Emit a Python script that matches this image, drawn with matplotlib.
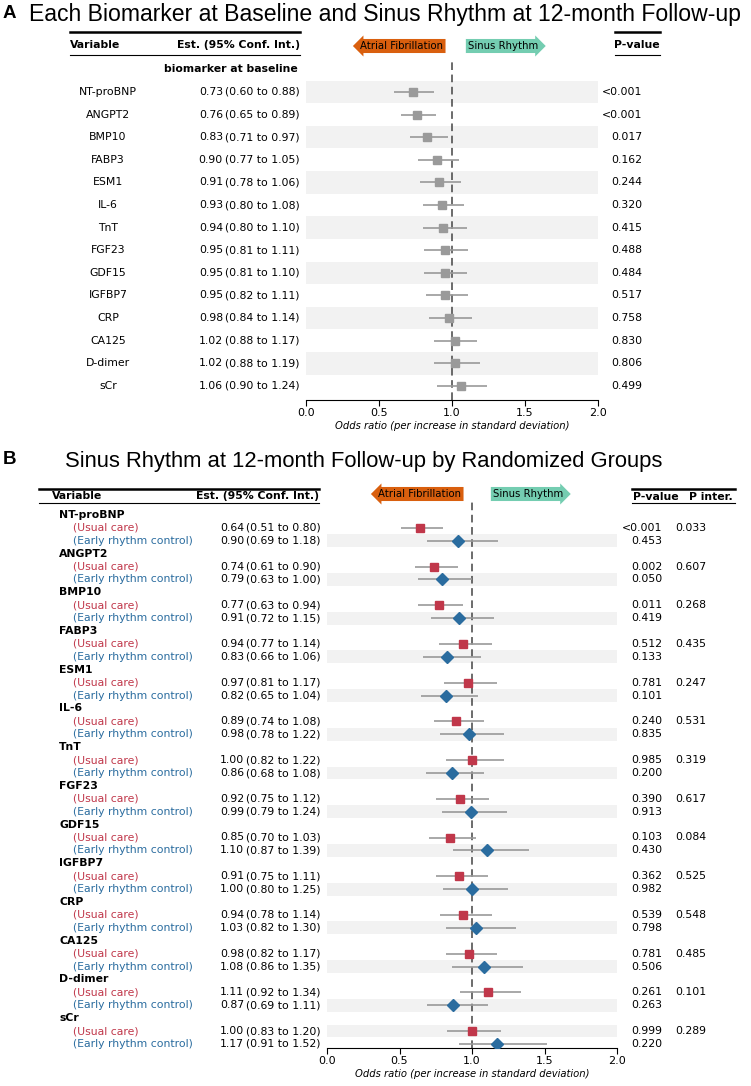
import numpy as np
import matplotlib.pyplot as plt
from matplotlib.lines import Line2D
from matplotlib.transforms import blended_transform_factory

# ---- data, panel A ----
biomarkers = ["NT-proBNP", "ANGPT2", "BMP10", "FABP3", "ESM1", "IL-6", "TnT",
              "FGF23", "GDF15", "IGFBP7", "CRP", "CA125", "D-dimer", "sCr"]
or_a = [0.73, 0.76, 0.83, 0.90, 0.91, 0.93, 0.94, 0.95, 0.95, 0.95, 0.98, 1.02, 1.02, 1.06]
lo_a = [0.60, 0.65, 0.71, 0.77, 0.78, 0.80, 0.80, 0.81, 0.81, 0.82, 0.84, 0.88, 0.88, 0.90]
hi_a = [0.88, 0.89, 0.97, 1.05, 1.06, 1.08, 1.10, 1.11, 1.10, 1.11, 1.14, 1.17, 1.19, 1.24]
p_a = ["<0.001", "<0.001", "0.017", "0.162", "0.244", "0.320", "0.415",
       "0.488", "0.484", "0.517", "0.758", "0.830", "0.806", "0.499"]

# ---- data, panel B ----
or_usual = [0.64, 0.74, 0.77, 0.94, 0.97, 0.89, 1.00, 0.92, 0.85, 0.91, 0.94, 0.98, 1.11, 1.00]
lo_usual = [0.51, 0.61, 0.63, 0.77, 0.81, 0.74, 0.82, 0.75, 0.70, 0.75, 0.78, 0.82, 0.92, 0.83]
hi_usual = [0.80, 0.90, 0.94, 1.14, 1.17, 1.08, 1.22, 1.12, 1.03, 1.11, 1.14, 1.17, 1.34, 1.20]
p_usual = ["<0.001", "0.002", "0.011", "0.512", "0.781", "0.240", "0.985",
           "0.390", "0.103", "0.362", "0.539", "0.781", "0.261", "0.999"]
or_early = [0.90, 0.79, 0.91, 0.83, 0.82, 0.98, 0.86, 0.99, 1.10, 1.00, 1.03, 1.08, 0.87, 1.17]
lo_early = [0.69, 0.63, 0.72, 0.66, 0.65, 0.78, 0.68, 0.79, 0.87, 0.80, 0.82, 0.86, 0.69, 0.91]
hi_early = [1.18, 1.00, 1.15, 1.06, 1.04, 1.22, 1.08, 1.24, 1.39, 1.25, 1.30, 1.35, 1.11, 1.52]
p_early = ["0.453", "0.050", "0.419", "0.133", "0.101", "0.835", "0.200",
           "0.913", "0.430", "0.982", "0.798", "0.506", "0.263", "0.220"]
p_inter = ["0.033", "0.607", "0.268", "0.435", "0.247", "0.531", "0.319",
           "0.617", "0.084", "0.525", "0.548", "0.485", "0.101", "0.289"]

W, H = 751, 1086
RED, BLUE = "#c0374a", "#2a6c9f"
ORANGE, TEAL = "#d95f0e", "#74cdb1"
BAND = "#f2f2f2"
TITLE_FONT = "Liberation Sans"
FS = 7.8


def fx(px):
    return px / W


def fy(py):
    return 1 - py / H


fig = plt.figure(figsize=(W / 100, H / 100), dpi=100)
plt.rcParams["font.family"] = "DejaVu Sans"


def hline(x0, x1, y, lw):
    fig.add_artist(Line2D([fx(x0), fx(x1)], [fy(y), fy(y)], color="black", lw=lw))


def arrows(xc_af, xc_sr, y):
    fig.text(fx(xc_af), fy(y), "Atrial Fibrillation", ha="center", va="center", fontsize=7.3,
             bbox=dict(boxstyle="larrow,pad=0.2", fc=ORANGE, ec="none"))
    fig.text(fx(xc_sr), fy(y), "Sinus Rhythm", ha="center", va="center", fontsize=7.3,
             bbox=dict(boxstyle="rarrow,pad=0.2", fc=TEAL, ec="none"))


def style_axis(ax):
    for s in ["top", "left", "right"]:
        ax.spines[s].set_visible(False)
    ax.set_xlim(0, 2)
    ax.set_xticks([0, 0.5, 1.0, 1.5, 2.0])
    ax.set_xticklabels(["0.0", "0.5", "1.0", "1.5", "2.0"], fontsize=8)
    ax.set_yticks([])
    ax.tick_params(axis="x", length=4, width=0.8, pad=2)
    ax.set_xlabel("Odds ratio (per increase in standard deviation)", fontsize=7.2,
                  style="italic", labelpad=2)
    ax.axvline(1.0, color="#444444", lw=1.1, ls=(0, (5, 3)), zorder=1)
    ax.set_facecolor("none")


# ================= Panel A =================
fig.text(fx(3), fy(14), "A", fontsize=13.5, fontweight="bold", family=TITLE_FONT, va="center")
fig.text(fx(29), fy(14), "Each Biomarker at Baseline and Sinus Rhythm at 12-month Follow-up",
         fontsize=16.6, family=TITLE_FONT, va="center")

axA = fig.add_axes([fx(306), fy(400), fx(598) - fx(306), fy(61) - fy(400)])
row0, step = 92, 22.6
axA.set_ylim((400 - row0) / step, (61 - row0) / step)
style_axis(axA)
n = len(biomarkers)
rows = np.arange(n)
for r in rows:
    if r % 2 == 0:
        axA.axhspan(r - 0.5, r + 0.5, color=BAND, lw=0, zorder=0)
axA.hlines(rows, lo_a, hi_a, color="#999999", lw=1.2, zorder=2)
axA.plot(or_a, rows, "s", color="#9a9a9a", ms=5.5, zorder=3)

trA = blended_transform_factory(fig.transFigure, axA.transData)
axA.text(fx(298), -1, "biomarker at baseline", transform=trA, ha="right", va="center",
         fontsize=FS, fontweight="bold")
for r in rows:
    axA.text(fx(108), r, biomarkers[r], transform=trA, ha="center", va="center", fontsize=FS)
    axA.text(fx(223), r, f"{or_a[r]:.2f}", transform=trA, ha="right", va="center", fontsize=FS)
    axA.text(fx(225), r, f"({lo_a[r]:.2f} to {hi_a[r]:.2f})", transform=trA, ha="left",
             va="center", fontsize=FS)
    axA.text(fx(642), r, p_a[r], transform=trA, ha="right", va="center", fontsize=FS)

hline(70, 300, 32, 1.8)
hline(70, 300, 55, 0.8)
hline(615, 660, 32, 1.8)
hline(615, 660, 55, 0.8)
fig.text(fx(70), fy(45), "Variable", ha="left", va="center", fontsize=FS, fontweight="bold")
fig.text(fx(300), fy(45), "Est. (95% Conf. Int.)", ha="right", va="center", fontsize=FS,
         fontweight="bold")
fig.text(fx(637), fy(45), "P-value", ha="center", va="center", fontsize=FS, fontweight="bold")
arrows(402, 503, 46)

# ================= Panel B =================
fig.text(fx(3), fy(460), "B", fontsize=13.5, fontweight="bold", family=TITLE_FONT, va="center")
fig.text(fx(65), fy(462), "Sinus Rhythm at 12-month Follow-up by Randomized Groups",
         fontsize=15.8, family=TITLE_FONT, va="center")

axB = fig.add_axes([fx(327), fy(1048), fx(617) - fx(327), fy(500) - fy(1048)])
rowB0, stepB = 515, 12.9
axB.set_ylim((1048 - rowB0) / stepB, (500 - rowB0) / stepB)
style_axis(axB)
hdr = 3 * rows
usual_rows = hdr + 1
early_rows = hdr + 2
for g in rows:
    shaded = usual_rows[g] if g == n - 1 else early_rows[g]
    axB.axhspan(shaded - 0.5, shaded + 0.5, color=BAND, lw=0, zorder=0)
axB.hlines(usual_rows, lo_usual, hi_usual, color="#999999", lw=1.2, zorder=2)
axB.hlines(early_rows, lo_early, hi_early, color="#999999", lw=1.2, zorder=2)
axB.plot(or_usual, usual_rows, "s", color=RED, ms=6, zorder=3)
axB.plot(or_early, early_rows, "D", color=BLUE, ms=6.5, zorder=3)

trB = blended_transform_factory(fig.transFigure, axB.transData)
for g in rows:
    axB.text(fx(59), hdr[g], biomarkers[g], transform=trB, ha="left", va="center",
             fontsize=FS, fontweight="bold")
    for rr, lab, col, est, lo, hi, pv in [
            (usual_rows[g], "(Usual care)", RED, or_usual[g], lo_usual[g], hi_usual[g], p_usual[g]),
            (early_rows[g], "(Early rhythm control)", BLUE, or_early[g], lo_early[g], hi_early[g], p_early[g])]:
        axB.text(fx(73), rr, lab, transform=trB, ha="left", va="center", fontsize=FS, color=col)
        axB.text(fx(244), rr, f"{est:.2f}", transform=trB, ha="right", va="center", fontsize=FS)
        axB.text(fx(246), rr, f"({lo:.2f} to {hi:.2f})", transform=trB, ha="left",
                 va="center", fontsize=FS)
        axB.text(fx(662), rr, pv, transform=trB, ha="right", va="center", fontsize=FS)
    axB.text(fx(706), usual_rows[g], p_inter[g], transform=trB, ha="right", va="center",
             fontsize=FS)

hline(39, 319, 489, 1.8)
hline(39, 319, 503, 0.8)
hline(632, 735, 489, 1.8)
hline(632, 735, 503, 0.8)
fig.text(fx(52), fy(496), "Variable", ha="left", va="center", fontsize=FS, fontweight="bold")
fig.text(fx(319), fy(496), "Est. (95% Conf. Int.)", ha="right", va="center", fontsize=FS,
         fontweight="bold")
fig.text(fx(633), fy(497), "P-value", ha="left", va="center", fontsize=FS, fontweight="bold")
fig.text(fx(733), fy(497), "P inter.", ha="right", va="center", fontsize=FS, fontweight="bold")
arrows(420, 528, 494)

fig.savefig("out.png", dpi=100)
